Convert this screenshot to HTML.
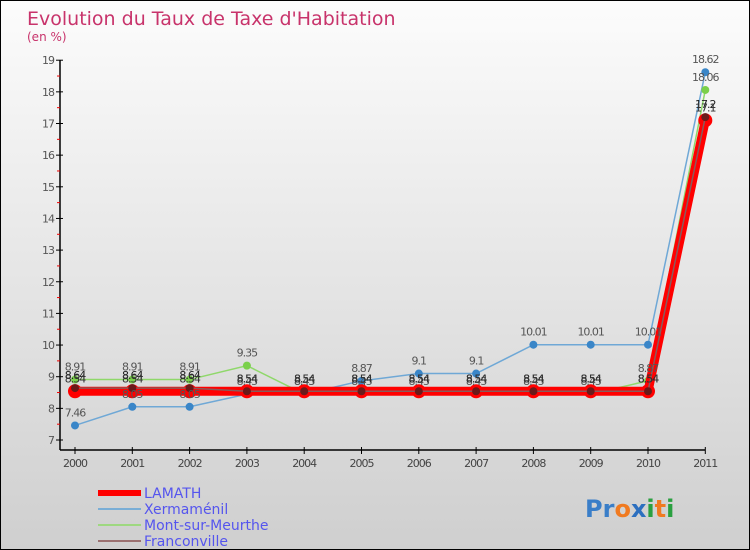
<!DOCTYPE html>
<html><head><meta charset="utf-8"><style>
body{margin:0}
#c{width:748px;height:548px;border:1px solid #000;background:linear-gradient(#fcfcfc,#cfcfcf);position:relative;font-family:"DejaVu Sans","Liberation Sans",sans-serif;overflow:hidden}
</style></head><body>
<div id="c">
<svg id="s" width="748" height="548"></svg>
</div>
<script>
const years=["2000","2001","2002","2003","2004","2005","2006","2007","2008","2009","2010","2011"];
const yTicks=[7,8,9,10,11,12,13,14,15,16,17,18,19];
const lamath=[8.54,8.54,8.54,8.54,8.54,8.54,8.54,8.54,8.54,8.54,8.54,17.1];
const xerm=[7.46,8.05,8.05,8.45,8.45,8.87,9.1,9.1,10.01,10.01,10.01,18.62];
const mont=[8.91,8.91,8.91,9.35,8.45,8.45,8.45,8.45,8.45,8.45,8.87,18.06];
const franc=[8.64,8.64,8.64,8.54,8.54,8.54,8.54,8.54,8.54,8.54,8.54,17.2];
const s=document.getElementById('s');const NS='http://www.w3.org/2000/svg';
function X(i){return 74+i*57.3}
function Y(v){return 439-(v-7)*31.65}
function el(t,a,txt){const e=document.createElementNS(NS,t);for(const k in a)e.setAttribute(k,a[k]);if(txt!==undefined)e.textContent=txt;s.appendChild(e);return e}
let e;
e=el('text',{x:26,y:24,'font-size':19,fill:'#c8336b'},"Evolution du Taux de Taxe d'Habitation");

e=el('text',{x:26,y:40,'font-size':12,fill:'#c8336b'},"(en %)");

e=el('line',{x1:59,y1:Y(19),x2:59,y2:449,stroke:'#000','stroke-width':1.5});

e=el('line',{x1:59,y1:449,x2:X(11),y2:449,stroke:'#000','stroke-width':1.5});

yTicks.forEach(v=>{
 e=el('line',{x1:55,y1:Y(v),x2:62,y2:Y(v),stroke:'#000'});
 
 e=el('text',{x:53,y:Y(v)+4,'font-size':11,fill:'#555','text-anchor':'end','letter-spacing':'-1'},String(v));
 
 if(v<19){e=el('line',{x1:56,y1:Y(v+0.5),x2:59,y2:Y(v+0.5),stroke:'#e00'});
 }
});
years.forEach((y,i)=>{
 e=el('line',{x1:X(i),y1:446,x2:X(i),y2:453,stroke:'#000'});
 
 e=el('text',{x:X(i),y:466,'font-size':11,fill:'#444','text-anchor':'middle','letter-spacing':'-1'},y);
 
});
function series(d,name,col,w,mcol,r,lblCol){
 e=el('polyline',{points:d.map((v,i)=>X(i)+','+Y(v)).join(' '),fill:'none',stroke:col,'stroke-width':w});
 
 d.forEach((v,i)=>{
  e=el('circle',{cx:X(i),cy:Y(v),r:r,fill:mcol});
  
 });
}
function labels(d,name,col){
 d.forEach((v,i)=>{
  e=el('text',{x:X(i),y:Y(v)-9,'font-size':11,fill:col,'text-anchor':'middle','letter-spacing':'-1'},String(v));
  
 });
}
series(xerm,'xermamenil','#6fa8d6',1.5,'#3a86c8',4);
series(mont,'mont-sur-meurthe','#8fd86a',1.5,'#7ad04a',4);
series(lamath,'lamath','#f00',9,'#f00',7);
series(franc,'franconville','#8b5a5a',1.5,'#6b1a1a',4);
labels(xerm,'xermamenil','#555');labels(mont,'mont-sur-meurthe','#555');labels(franc,'franconville','#222');labels(lamath,'lamath','#333');
const leg=[['LAMATH','#f00',6],['Xermaménil','#7aaed6',2],['Mont-sur-Meurthe','#9ed880',2],['Franconville','#9a7070',2]];
leg.forEach((l,i)=>{
 const y=492+i*16;
 e=el('line',{x1:97,y1:y,x2:140,y2:y,stroke:l[1],'stroke-width':l[2]});
 
 e=el('text',{x:143,y:y+5,'font-size':14,fill:'#5555ee'},l[0]);
 
});
const logo=[['Pr','#3a7ec8'],['o','#f07a20'],['x','#2c6fbf'],['i','#2aa040'],['t','#f07a20'],['i','#2aa040']];
e=el('text',{x:584,y:516,'font-size':24,'font-weight':'bold'});

logo.forEach(p=>{const t=document.createElementNS(NS,'tspan');t.setAttribute('fill',p[1]);t.textContent=p[0];e.appendChild(t);});
</script>
</body></html>
